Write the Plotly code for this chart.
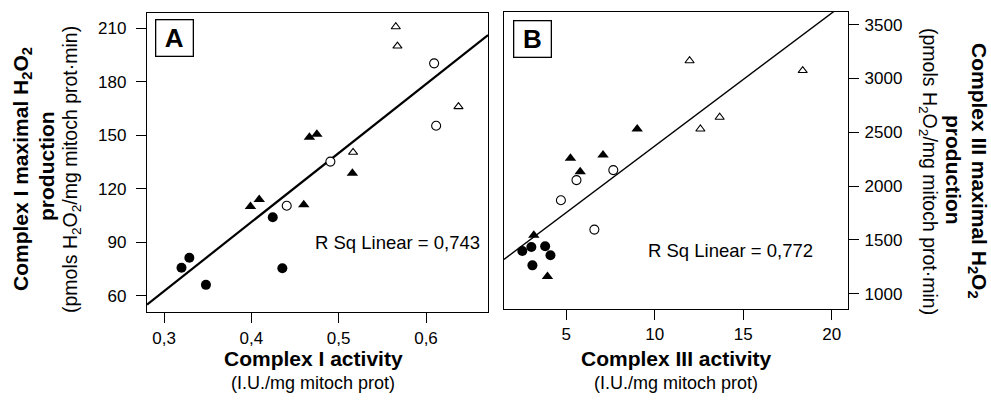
import numpy as np
import plotly.graph_objects as go

W, H = 991, 403

# ---------------- Panel A data: Complex I activity vs Complex I H2O2 production
a_fc_x = [0.320, 0.329, 0.348, 0.4245, 0.4355]
a_fc_y = [75.8, 81.4, 66.2, 104.0, 75.5]
a_ft_x = [0.399, 0.409, 0.4665, 0.475, 0.460, 0.5157]
a_ft_y = [110.0, 114.0, 148.8, 150.5, 111.0, 128.7]
a_oc_x = [0.4405, 0.4905, 0.6093, 0.6116]
a_oc_y = [110.5, 135.2, 190.2, 155.3]
a_ot_x = [0.5654, 0.5673, 0.5165, 0.6372]
a_ot_y = [210.7, 199.9, 140.4, 166.0]

# ---------------- Panel B data: Complex III activity vs Complex III H2O2 production
b_fc_x = [2.52, 3.03, 3.09, 3.81, 4.11]
b_fc_y = [1397, 1434, 1264, 1441, 1357]
b_ft_x = [3.17, 3.94, 5.24, 5.79, 7.08, 9.01]
b_ft_y = [1543, 1161, 2258, 2133, 2289, 2531]
b_oc_x = [4.70, 5.58, 7.66, 6.59]
b_oc_y = [1869, 2056, 2149, 1596]
b_ot_x = [11.97, 12.58, 13.67, 18.36]
b_ot_y = [3165, 2531, 2640, 3074]

a_xticks = [0.3, 0.4, 0.5, 0.6]
a_xtext = ["0,3", "0,4", "0,5", "0,6"]
a_yticks = [60, 90, 120, 150, 180, 210]
b_xticks = [5, 10, 15, 20]
b_yticks = [1000, 1500, 2000, 2500, 3000, 3500]

a_xrange = [0.2805, 0.671]
a_yrange = [51, 218.4]
b_xrange = [1.485, 20.92]
b_yrange = [863, 3618]

r2_a = "0,743"
r2_b = "0,772"

FONT = "Liberation Sans, Arial, Helvetica, sans-serif"


def px(x):
    return x / W


def py(y):
    return 1 - y / H


fig = go.Figure()


def add_points(xs, ys, symbol, size, xa, ya, filled):
    fig.add_trace(go.Scatter(
        x=xs, y=ys, mode="markers", xaxis=xa, yaxis=ya, showlegend=False,
        marker=dict(symbol=symbol, size=size,
                    color="black" if filled else "white",
                    line=dict(color="black", width=0 if filled else 1.1)),
    ))


def add_fit(xs_list, ys_list, rng, xa, ya, width):
    xs = np.concatenate([np.asarray(v, float) for v in xs_list])
    ys = np.concatenate([np.asarray(v, float) for v in ys_list])
    k, b = np.polyfit(xs, ys, 1)
    fx = np.array(rng)
    fig.add_trace(go.Scatter(x=fx, y=k * fx + b, mode="lines", xaxis=xa, yaxis=ya,
                             showlegend=False, line=dict(color="black", width=width),
                             cliponaxis=True))


add_fit([a_fc_x, a_ft_x, a_oc_x, a_ot_x], [a_fc_y, a_ft_y, a_oc_y, a_ot_y], a_xrange, "x", "y", 2.2)
add_points(a_fc_x, a_fc_y, "circle", 10, "x", "y", True)
add_points(a_ft_x, a_ft_y, "triangle-up", 10, "x", "y", True)
add_points(a_oc_x, a_oc_y, "circle", 9, "x", "y", False)
add_points(a_ot_x, a_ot_y, "triangle-up", 8, "x", "y", False)

add_fit([b_fc_x, b_ft_x, b_oc_x, b_ot_x], [b_fc_y, b_ft_y, b_oc_y, b_ot_y], b_xrange, "x2", "y2", 1.4)
add_points(b_fc_x, b_fc_y, "circle", 10, "x2", "y2", True)
add_points(b_ft_x, b_ft_y, "triangle-up", 10, "x2", "y2", True)
add_points(b_oc_x, b_oc_y, "circle", 9, "x2", "y2", False)
add_points(b_ot_x, b_ot_y, "triangle-up", 8, "x2", "y2", False)

axis_common = dict(showgrid=False, zeroline=False, showline=True, mirror=True,
                   linecolor="black", linewidth=1.3, ticks="outside", ticklen=10,
                   tickwidth=1.1, tickcolor="black",
                   tickfont=dict(family=FONT, size=17, color="black"))

fig.update_layout(
    width=W, height=H,
    margin=dict(l=0, r=0, t=0, b=0),
    paper_bgcolor="white", plot_bgcolor="white",
    font=dict(family=FONT, color="black"),
    xaxis=dict(domain=[px(147), px(488)], range=a_xrange, anchor="y",
               tickvals=a_xticks, ticktext=a_xtext, **axis_common),
    yaxis=dict(domain=[py(312), py(13)], range=a_yrange, anchor="x",
               tickvals=a_yticks, ticklabelstandoff=6, **axis_common),
    xaxis2=dict(domain=[px(504), px(848)], range=b_xrange, anchor="y2",
                tickvals=b_xticks, **axis_common),
    yaxis2=dict(domain=[py(308.5), py(12)], range=b_yrange, anchor="x2", side="right",
                tickvals=b_yticks, ticklabelstandoff=2, **axis_common),
)

ann = []


def text(t, x, y, size, bold=False, angle=0, xanchor="center", yanchor="middle"):
    ann.append(dict(text=("<b>%s</b>" % t) if bold else t, x=px(x), y=py(y),
                    xref="paper", yref="paper", showarrow=False, textangle=angle,
                    xanchor=xanchor, yanchor=yanchor,
                    font=dict(family=FONT, size=size, color="black")))


# panel labels
for lab, cx, cy in [("A", 174, 38.5), ("B", 532, 39)]:
    ann.append(dict(text="<b>%s</b>" % lab, x=px(cx), y=py(cy), xref="paper", yref="paper",
                    showarrow=False, xanchor="center", yanchor="middle",
                    font=dict(family=FONT, size=26, color="black"),
                    bordercolor="black", borderwidth=1.3, borderpad=3, bgcolor="white",
                    width=30, height=29))

# R squared
text("R Sq Linear = " + r2_a, 482, 242, 18.5, xanchor="right")
text("R Sq Linear = " + r2_b, 815, 250, 18.5, xanchor="right")

# x-axis titles
text("Complex I activity", 313, 358, 21, bold=True)
text("(I.U./mg mitoch prot)", 313, 383, 18)
text("Complex III activity", 676, 358, 21, bold=True)
text("(I.U./mg mitoch prot)", 676, 383, 18)

# left y title
text("Complex I maximal H<sub>2</sub>O<sub>2</sub>", 22, 169, 21, bold=True, angle=-90)
text("production", 46, 166, 21, bold=True, angle=-90)
text("(pmols H<sub>2</sub>O<sub>2</sub>/mg mitoch prot·min)", 71, 170, 19.5, angle=-90)

# right y title
text("Complex III maximal H<sub>2</sub>O<sub>2</sub>", 978, 171, 21, bold=True, angle=90)
text("production", 954, 170, 21, bold=True, angle=90)
text("(pmols H<sub>2</sub>O<sub>2</sub>/mg mitoch prot·min)", 929, 171, 19.5, angle=90)

fig.update_layout(annotations=ann)
fig.write_html("out.html", config={"displayModeBar": False},
               post_script="document.body.style.margin='0px';document.body.style.overflow='hidden';")
